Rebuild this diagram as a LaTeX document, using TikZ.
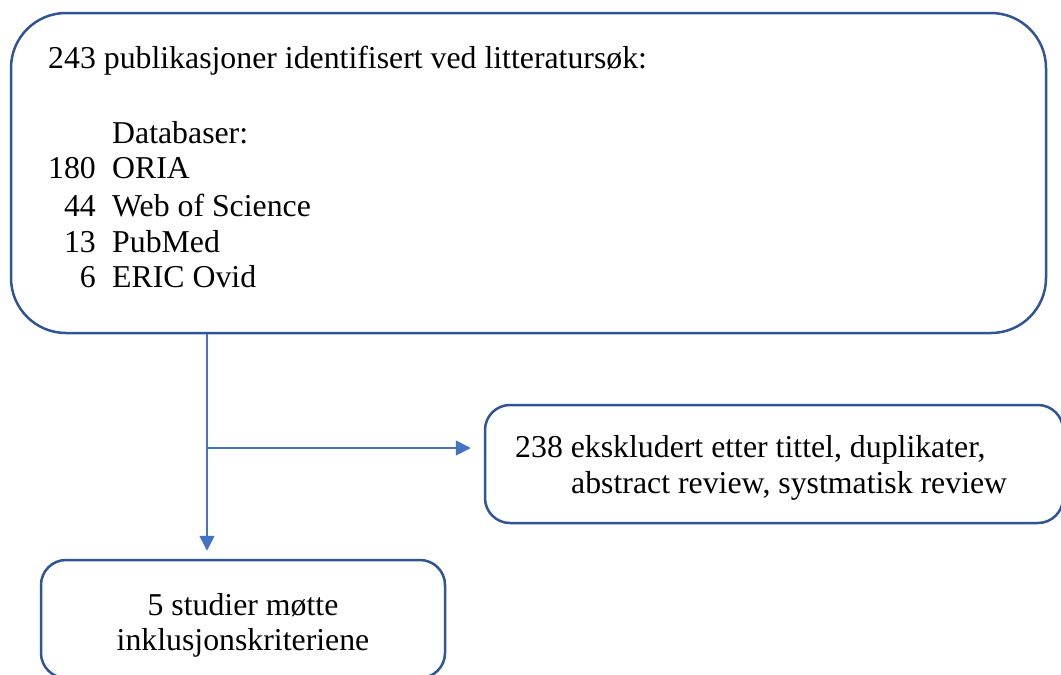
\documentclass[tikz,border=0pt]{standalone}
\usepackage{fontspec}
\setmainfont{Liberation Serif}
\usetikzlibrary{arrows.meta}
\definecolor{boxblue}{HTML}{2F5597}
\definecolor{lineblue}{HTML}{4472C4}
\begin{document}
\begin{tikzpicture}[x=1pt,y=1pt,
  box/.style={draw=boxblue,line width=2.5pt,rounded corners=#1,inner sep=0pt},
  txt/.style={inner sep=0pt,font=\fontsize{31.8}{36}\selectfont},
  conn/.style={draw=lineblue,line width=1.6pt,-{Triangle[width=15pt,length=15pt]}}]
\useasboundingbox (0,0) rectangle (1061,-675);
% boxes
\node[box=55pt,minimum width=1035pt,minimum height=320pt] (top) at (528.5,-173) {};
\node[box=25pt,minimum width=578pt,minimum height=118pt] (right) at (774,-464) {};
\node[box=25pt,minimum width=404pt,minimum height=118pt] (bot) at (243,-619) {};
% top texts
\node[txt,anchor=base west] (t1) at (48,-68) {243 publikasjoner identifisert ved litteratursøk:};
\node[txt,anchor=base west] (t2) at (112,-143) {Databaser:};
\node[txt,anchor=base east] (n1) at (96,-178) {180};
\node[txt,anchor=base west] (d1) at (112,-178) {ORIA};
\node[txt,anchor=base east] (n2) at (96,-216) {44};
\node[txt,anchor=base west] (d2) at (112,-216) {Web of Science};
\node[txt,anchor=base east] (n3) at (96,-252) {13};
\node[txt,anchor=base west] (d3) at (112,-252) {PubMed};
\node[txt,anchor=base east] (n4) at (96,-287) {6};
\node[txt,anchor=base west] (d4) at (112,-287) {ERIC Ovid};
% right texts
\node[txt,anchor=base west] (r1) at (515,-457) {238 ekskludert etter tittel, duplikater,};
\node[txt,anchor=base west] (r2) at (571,-493) {abstract review, systmatisk review};
% bottom texts
\node[txt,anchor=base] (b1) at (243,-615) {5 studier møtte};
\node[txt,anchor=base] (b2) at (243,-650) {inklusjonskriteriene};
% connectors
\coordinate (j) at (207,-448);
\draw[conn,shorten >=8pt] (top.south -| j) -- (bot.north -| j);
\draw[conn,shorten >=13pt] (j) -- (j -| right.west);
\end{tikzpicture}
\end{document}
